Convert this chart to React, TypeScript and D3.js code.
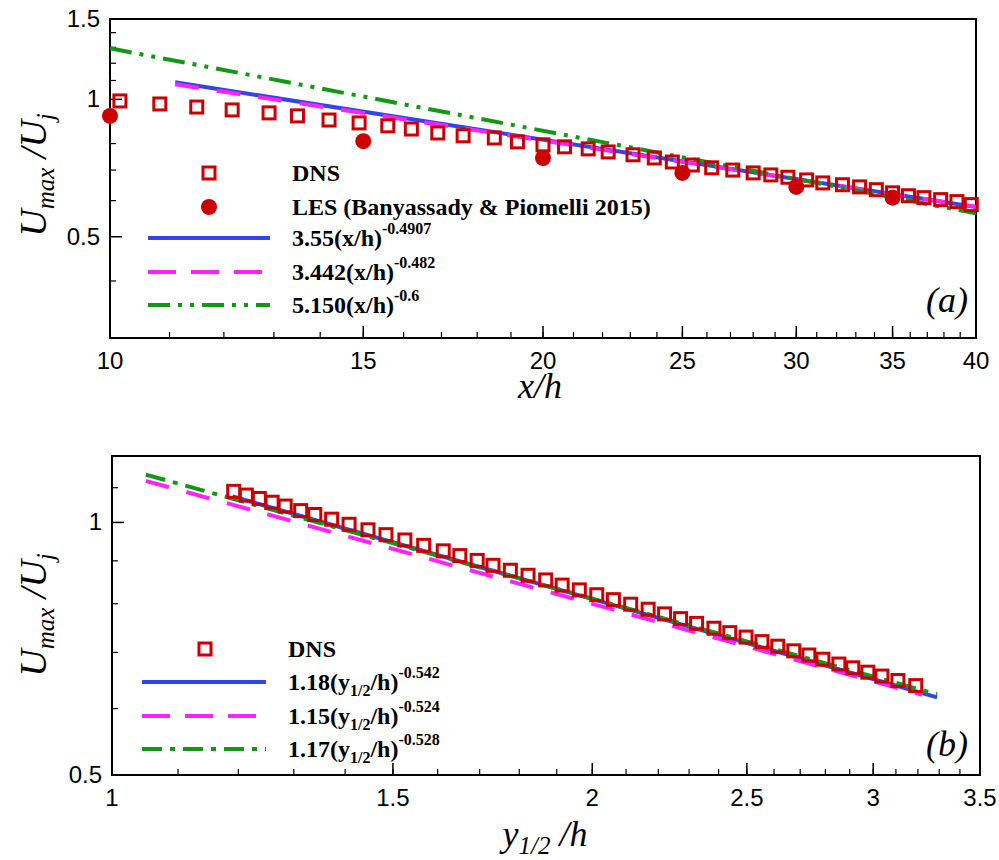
import React from 'react';
import * as d3 from 'd3';

// panel (a)
const dnsAX = [10.16, 10.83, 11.49, 12.16, 12.9, 13.5, 14.2, 14.9, 15.6, 16.2, 16.9, 17.6, 18.5, 19.2, 20.0, 20.7, 21.5, 22.2, 23.1, 23.9, 24.6, 25.4, 26.2, 27.1, 28.0, 28.8, 29.6, 30.5, 31.3, 32.3, 33.2, 34.1, 35.0, 35.9, 36.8, 37.8, 38.8, 39.7];
const dnsAY = [0.992, 0.977, 0.962, 0.948, 0.934, 0.92, 0.901, 0.888, 0.875, 0.861, 0.844, 0.832, 0.823, 0.807, 0.795, 0.787, 0.779, 0.767, 0.756, 0.744, 0.729, 0.718, 0.708, 0.7, 0.69, 0.683, 0.675, 0.666, 0.656, 0.65, 0.643, 0.634, 0.624, 0.615, 0.609, 0.603, 0.597, 0.588];
const lesX = [10, 15, 20, 25, 30, 35];
const lesY = [0.92, 0.81, 0.744, 0.69, 0.643, 0.609];
const fitsA = [
  { c: 3.55, p: -0.4907, x0: 11.1, x1: 40, label: '3.55(x/h)', sup: '-0.4907' },
  { c: 3.442, p: -0.482, x0: 11.1, x1: 40, label: '3.442(x/h)', sup: '-0.482' },
  { c: 5.15, p: -0.6, x0: 10, x1: 40, label: '5.150(x/h)', sup: '-0.6' },
];

// panel (b)
const dnsBX = [1.192, 1.214, 1.237, 1.26, 1.284, 1.313, 1.34, 1.373, 1.408, 1.447, 1.485, 1.526, 1.568, 1.613, 1.652, 1.694, 1.733, 1.777, 1.823, 1.87, 1.915, 1.963, 2.013, 2.062, 2.114, 2.168, 2.22, 2.272, 2.325, 2.384, 2.439, 2.497, 2.555, 2.614, 2.675, 2.734, 2.79, 2.855, 2.913, 2.977, 3.038, 3.109, 3.19];
const dnsBY = [1.089, 1.078, 1.068, 1.057, 1.046, 1.033, 1.022, 1.009, 0.995, 0.98, 0.967, 0.953, 0.939, 0.925, 0.913, 0.901, 0.889, 0.877, 0.865, 0.854, 0.842, 0.831, 0.82, 0.809, 0.799, 0.788, 0.778, 0.768, 0.758, 0.748, 0.739, 0.73, 0.721, 0.712, 0.703, 0.695, 0.687, 0.678, 0.671, 0.663, 0.656, 0.648, 0.639];
const fitsB = [
  { c: 1.18, p: -0.542, x0: 1.19, x1: 3.29, label: '1.18(y', sup: '-0.542' },
  { c: 1.15, p: -0.524, x0: 1.05, x1: 3.22, label: '1.15(y', sup: '-0.524' },
  { c: 1.17, p: -0.528, x0: 1.05, x1: 3.29, label: '1.17(y', sup: '-0.528' },
];

const RED = '#cc0000';
const lineColors = ['#3344ee', '#ff22ff', '#119911'];
const tickFont = 'Liberation Sans, Arial, sans-serif';
const serif = 'Liberation Serif, Times New Roman, serif';

const range = (a: number, b: number, s: number) => d3.range(a, b + 1e-9, s).map(v => +v.toFixed(2));

function Axes({ x, y, top, bottom, left, right, xMajor, xMinor, yMajor, yMinor }: any) {
  return (
    <g>
      <rect x={left} y={top} width={right - left} height={bottom - top} fill="none" stroke="#000" strokeWidth={2} />
      {xMinor.map((v: number) => <line key={'xm' + v} x1={x(v)} x2={x(v)} y1={bottom} y2={bottom - 6} stroke="#000" strokeWidth={1.2} />)}
      {xMajor.map((v: number) => (
        <g key={'x' + v}>
          <line x1={x(v)} x2={x(v)} y1={bottom} y2={bottom - 12} stroke="#000" strokeWidth={1.5} />
          <text x={x(v)} y={bottom + 31} textAnchor="middle" fontFamily={tickFont} fontSize={24}>{v}</text>
        </g>
      ))}
      {yMinor.map((v: number) => <line key={'ym' + v} x1={left} x2={left + 6} y1={y(v)} y2={y(v)} stroke="#000" strokeWidth={1.2} />)}
      {yMajor.map((v: number) => (
        <g key={'y' + v}>
          <line x1={left} x2={left + 12} y1={y(v)} y2={y(v)} stroke="#000" strokeWidth={1.5} />
          <text x={left - 10} y={y(v) + 8} textAnchor="end" fontFamily={tickFont} fontSize={24}>{v}</text>
        </g>
      ))}
    </g>
  );
}

const Square = ({ cx, cy }: any) => <rect x={cx - 6} y={cy - 6} width={12} height={12} fill="none" stroke={RED} strokeWidth={3} />;

export default function App() {
  // panel (a)
  const aL = 110, aR = 976, aT = 19, aB = 338;
  const xa = d3.scaleLog().domain([10, 40]).range([aL, aR]);
  const ya = d3.scaleLog().domain([0.3, 1.5]).range([aB, aT]);
  // panel (b)
  const bL = 112, bR = 980, bT = 456, bB = 775;
  const xb = d3.scaleLog().domain([1, 3.5]).range([bL, bR]);
  const yb = d3.scaleLog().domain([0.5, 1.2]).range([bB, bT]);

  const fitPath = (f: any, sx: any, sy: any) =>
    d3.line<number>().x(v => sx(v)).y(v => sy(f.c * Math.pow(v, f.p)))([f.x0, f.x1]) || '';

  const dashA = ['', '24,18', '22,8,4,8,4,8'];
  const dashB = ['', '24,18', '20,8,5,8'];

  const legA = [173, 207, 238, 272, 305];
  const legB = [649, 682, 716, 749];

  return (
    <svg width={999} height={860} style={{ position: 'absolute', left: 0, top: 0 }}>
      <rect width={999} height={860} fill="#fff" />
      <defs>
        <clipPath id="ca"><rect x={aL} y={aT} width={aR - aL} height={aB - aT} /></clipPath>
      </defs>
      <Axes x={xa} y={ya} top={aT} bottom={aB} left={aL} right={aR}
        xMajor={[10, 15, 20, 25, 30, 35, 40]}
        xMinor={range(11, 39, 1)}
        yMajor={[0.5, 1, 1.5]}
        yMinor={[0.3, 0.4, 0.6, 0.7, 0.8, 0.9, 1.1, 1.2, 1.3, 1.4]} />
      <g clipPath="url(#ca)">
        {fitsA.map((f, i) => (
          <path key={i} d={fitPath(f, xa, ya)} fill="none" stroke={lineColors[i]} strokeWidth={4} strokeDasharray={dashA[i]} />
        ))}
      </g>
      {dnsAX.map((v, i) => <Square key={i} cx={xa(v)} cy={ya(dnsAY[i])} />)}
      {lesX.map((v, i) => <circle key={i} cx={xa(v)} cy={ya(lesY[i])} r={8} fill={RED} />)}
      {/* legend (a) */}
      <g fontFamily={serif} fontWeight="bold" fontSize={24}>
        <Square cx={209} cy={legA[0]} />
        <text x={292} y={legA[0] + 8}>DNS</text>
        <circle cx={209} cy={legA[1]} r={8} fill={RED} />
        <text x={292} y={legA[1] + 8}>LES (Banyassady &amp; Piomelli 2015)</text>
        {fitsA.map((f, i) => (
          <g key={i}>
            <line x1={148} x2={270} y1={legA[i + 2]} y2={legA[i + 2]} stroke={lineColors[i]} strokeWidth={4} strokeDasharray={i === 1 ? '28,15' : i === 2 ? '22,8,4,8,4,8' : ''} />
            <text x={292} y={legA[i + 2] + 8}>{f.label}<tspan dy={-12} fontSize={16}>{f.sup}</tspan></text>
          </g>
        ))}
      </g>
      <text x={968} y={312} textAnchor="end" fontFamily={serif} fontStyle="italic" fontSize={36}>(a)</text>
      <text transform="translate(46,175) rotate(-90)" textAnchor="middle" fontFamily={serif} fontStyle="italic" fontSize={38}>
        U<tspan fontSize={25} dy={8}>max</tspan><tspan dy={-8}> /U</tspan><tspan fontSize={25} dy={8}>j</tspan>
      </text>
      <text x={540} y={398} textAnchor="middle" fontFamily={serif} fontStyle="italic" fontSize={36}>x/h</text>

      <Axes x={xb} y={yb} top={bT} bottom={bB} left={bL} right={bR}
        xMajor={[1, 1.5, 2, 2.5, 3, 3.5]}
        xMinor={range(1.1, 3.4, 0.1)}
        yMajor={[0.5, 1]}
        yMinor={[0.6, 0.7, 0.8, 0.9, 1.1]} />
      {fitsB.map((f, i) => (
        <path key={i} d={fitPath(f, xb, yb)} fill="none" stroke={lineColors[i]} strokeWidth={4} strokeDasharray={dashB[i]} />
      ))}
      {dnsBX.map((v, i) => <Square key={i} cx={xb(v)} cy={yb(dnsBY[i])} />)}
      <g fontFamily={serif} fontWeight="bold" fontSize={24}>
        <Square cx={205} cy={legB[0]} />
        <text x={288} y={legB[0] + 8}>DNS</text>
        {fitsB.map((f, i) => (
          <g key={i}>
            <line x1={142} x2={266} y1={legB[i + 1]} y2={legB[i + 1]} stroke={lineColors[i]} strokeWidth={4} strokeDasharray={i === 1 ? '28,15' : i === 2 ? '20,8,5,8' : ''} />
            <text x={288} y={legB[i + 1] + 8}>{f.label}<tspan fontSize={16} dy={6}>1/2</tspan><tspan dy={-6}>/h)</tspan><tspan dy={-12} fontSize={16}>{f.sup}</tspan></text>
          </g>
        ))}
      </g>
      <text x={968} y={756} textAnchor="end" fontFamily={serif} fontStyle="italic" fontSize={36}>(b)</text>
      <text transform="translate(46,615) rotate(-90)" textAnchor="middle" fontFamily={serif} fontStyle="italic" fontSize={38}>
        U<tspan fontSize={25} dy={8}>max</tspan><tspan dy={-8}> /U</tspan><tspan fontSize={25} dy={8}>j</tspan>
      </text>
      <text x={545} y={846} textAnchor="middle" fontFamily={serif} fontStyle="italic" fontSize={36}>
        y<tspan fontSize={25} dy={8}>1/2</tspan><tspan dy={-8}> /h</tspan>
      </text>
    </svg>
  );
}
